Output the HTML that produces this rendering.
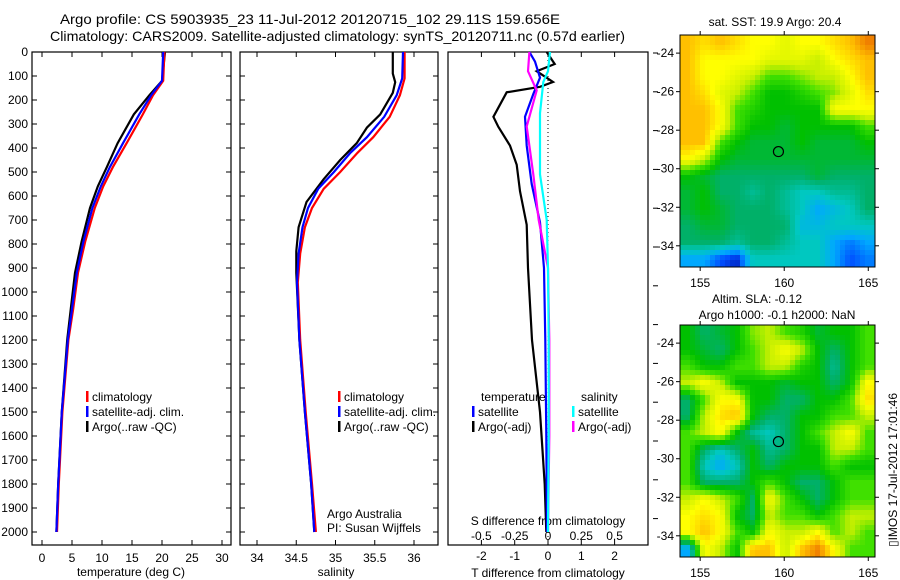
<!DOCTYPE html>
<html><head><meta charset="utf-8">
<style>
html,body{margin:0;padding:0;background:#fff;}
svg{display:block;font-family:"Liberation Sans",sans-serif;font-size:12px;}
</style></head>
<body>
<svg id="fig" width="900" height="580" viewBox="0 0 900 580">
<text x="60" y="24" font-size="14" textLength="500" lengthAdjust="spacingAndGlyphs">Argo profile: CS 5903935_23 11-Jul-2012 20120715_102 29.11S 159.656E</text>
<text x="50" y="41" font-size="14" textLength="575" lengthAdjust="spacingAndGlyphs">Climatology: CARS2009. Satellite-adjusted climatology: synTS_20120711.nc (0.57d earlier)</text>
<g id="g1"></g>
<g id="g2"></g>
<g id="g3"></g>
<g id="m1"></g>
<g id="m2"></g>
<text x="0" y="0" transform="translate(897,470) rotate(-90)" text-anchor="middle" font-size="12">▯IMOS 17-Jul-2012 17:01:46</text>
</svg>
<script>
// ---- temperature profile data ----
const tDepth = [0,120,180,260,380,480,560,650,790,920,1070,1200,1500,1800,2000];
const tClim = [20.4,20.2,18.5,16.8,14.1,11.8,10.2,8.8,7.2,6.0,5.2,4.4,3.4,2.8,2.5];
const tSat  = [20.2,20.0,18.2,16.2,13.5,11.3,9.8,8.4,6.9,5.8,5.0,4.3,3.3,2.7,2.4];
const tArgo = [20.5,20.0,17.9,15.3,12.6,10.8,9.3,8.0,6.6,5.5,4.8,4.2,3.3,2.7,2.4];
// ---- salinity profile data ----
const sDepth = [0,110,180,270,355,420,500,570,650,730,840,960,1200,1500,1800,2000];
const sClim = [35.88,35.88,35.82,35.69,35.48,35.28,35.06,34.85,34.70,34.61,34.55,34.52,34.55,34.62,34.70,34.75];
const sSat  = [35.86,35.85,35.78,35.62,35.40,35.19,34.98,34.78,34.65,34.58,34.53,34.51,34.54,34.61,34.69,34.73];
const sArgoDepth = [0,90,126,170,260,315,380,450,530,625,730,830,920,1200,1500,1800,2000];
const sArgo = [35.73,35.73,35.76,35.73,35.57,35.40,35.27,35.06,34.85,34.63,34.53,34.50,34.50,34.54,34.61,34.69,34.73];
// ---- difference data ----
const dTArgoDepth = [0,50,80,125,145,168,270,310,390,470,580,720,900,1200,1500,1800,2000];
const dTArgo = [-0.04,0.2,-0.34,0.15,-0.24,-1.24,-1.64,-1.5,-1.14,-0.94,-0.84,-0.64,-0.6,-0.48,-0.24,-0.1,-0.05];
const dTSatDepth = [0,40,107,175,270,390,550,710,900,1200,1600,2000];
const dTSat = [-0.56,-0.39,-0.24,-0.44,-0.69,-0.64,-0.49,-0.24,-0.12,-0.08,-0.05,-0.03];
const dSArgoDepth = [0,80,160,310,510,700,900,1200,1600,2000];
const dSArgo = [-0.14,-0.15,-0.085,-0.16,-0.11,-0.07,0.0,0.01,0.01,0.0];
const dSSatDepth = [0,80,125,255,510,700,900,1200,1600,2000];
const dSSat = [0.015,0.0,-0.035,-0.06,-0.06,-0.01,0.0,0.005,0.005,0.0];
// ---- tick labels ----
const depthTicks = [0,100,200,300,400,500,600,700,800,900,1000,1100,1200,1300,1400,1500,1600,1700,1800,1900,2000];
const tTicks = [0,5,10,15,20,25,30];
const sTicks = [34,34.5,35,35.5,36];
const sTickLabels = ["34","34.5","35","35.5","36"];
const dTTicks = [-2,-1,0,1,2];
const dSTicks = [-0.5,-0.25,0,0.25,0.5];
const dSTickLabels = ["-0.5","-0.25","0","0.25","0.5"];
const lonTicks = [155,160,165];
const latTicks = [-24,-26,-28,-30,-32,-34];
// ---- map grids (colour index 0..10, rows north->south, cols west->east) ----
const sstGrid = [
[9,8.5,9,8.5,8,8,7.5,8,8,8.5,9,10],
[9,8,8,8,8,7.5,7.5,7.5,7,8,8.5,9],
[9,8,8,7.5,7,6,6,6.5,7,7,8,9],
[9,8.5,7.5,7,6,5,5,5.5,6,6.5,7.5,8.5],
[9,9,8,6,5.5,5,5,5,5,8,8,8],
[9,9,8,6,5,5,4.5,5,5,5,5,6],
[9,9,6,5,4.5,4.5,4.5,5,4.5,4.5,4.5,5],
[8,7,5,4.5,4.5,4.5,4.5,4.5,4.5,4.5,4.5,4.5],
[5,4.5,4,4,4,4,4,4,4.5,4,4,4],
[4.5,5,4,4,3.5,4,3.5,3,3,3.5,3.5,4],
[4.5,5,4.5,4,4,4,3.5,3,2,2.5,3,4],
[4,4.5,4.5,4,4,4,4,2.5,2.5,3,3,3],
[4,4,4,3.5,4,4,3.5,3,3,2,1.5,2],
[2,2,1,0.5,3,3,3,3,3,2,1,1.5]];
const slaGrid = [
[5,4,4.5,5,6.5,7,6,5.5,4.5,5,5,6],
[5,4.5,4,5,6,7,8,7,5,4,5,6],
[6,5,5,6,6,7,7,5.5,5,3.5,5,6],
[7,8,7,5,5,5,4.5,5,5,4,5,8],
[4,6,8,8,5,5,4,4,5,5,6,8.5],
[4,7,8.5,9,5,4,4,5,5,6,6,7],
[6,7,8,5,3.5,3,4,5,6,7,8,6],
[6,4,3,4,5,3.5,4,5,5,7,7,6],
[6,3,2,3,5,4,5,5,5,6,5,5],
[6,4,4,4,5,6,5,4,4,5,6,6],
[7,8,7,6,4,8,6,5,4,5,6,6],
[8,8.5,8,5,4,7,6,6,5,6,7,7],
[8,9,8,6,5,8,7,7,8,6,7,6],
[2,8,7,5,9,9,7,9,10,8,6,6]];
const argoLon = 159.656, argoLat = -29.11;

const NS="http://www.w3.org/2000/svg";
function mk(parent,tag,attrs,text){const e=document.createElementNS(NS,tag);for(const k in attrs)e.setAttribute(k,attrs[k]);if(text!==undefined)e.textContent=text;parent.appendChild(e);return e;}
function lin(d0,d1,r0,r1){return v=>r0+(v-d0)*(r1-r0)/(d1-d0);}
const yD = lin(0,2000,52,532);
const PT=52,PB=545;

function frame(g,x0,x1,name){
  const r=mk(g,'rect',{x:x0,y:PT,width:x1-x0,height:PB-PT,fill:'none',stroke:'#000','stroke-width':1.2});
  
  
}
function line(g,xs,ds,fx,color,name){
  const pts=xs.map((v,i)=>fx(v).toFixed(1)+','+yD(ds[i]).toFixed(1)).join(' ');
  const p=mk(g,'polyline',{points:pts,fill:'none',stroke:color,'stroke-width':2.2,'stroke-linejoin':'miter'});
  
  
}
function depthTicksDraw(g,x0,x1,labels){
  depthTicks.forEach(d=>{const y=yD(d);
    mk(g,'line',{x1:x0,y1:y,x2:x0+5,y2:y,stroke:'#000'});
    mk(g,'line',{x1:x1,y1:y,x2:x1-5,y2:y,stroke:'#000'});
    if(labels){const t=mk(g,'text',{x:x0-4,y:y+4,'text-anchor':'end'},String(d));
      
      }
  });
}
function xTicks(g,vals,labs,fx,ly){
  vals.forEach((v,i)=>{const x=fx(v);
    mk(g,'line',{x1:x,y1:PT,x2:x,y2:PT+5,stroke:'#000'});
    mk(g,'line',{x1:x,y1:PB,x2:x,y2:PB-5,stroke:'#000'});
    const t=mk(g,'text',{x:x,y:ly,'text-anchor':'middle'},labs[i]);
    
    
  });
}
function legend(g,x,y,color,label){
  mk(g,'rect',{x:x,y:y-10,width:2.5,height:11,fill:color});
  const t=mk(g,'text',{x:x+6,y:y},label);
  
  
}

// Panel 1: temperature
(function(){
  const g=document.getElementById('g1');
  const fx=lin(0,30,42,222);
  frame(g,32,231,'temperature');
  depthTicksDraw(g,32,231,true);
  xTicks(g,tTicks,tTicks.map(String),fx,562);
  const xl=mk(g,'text',{x:131,y:576,'text-anchor':'middle'},'temperature (deg C)');
  
  
  line(g,tArgo,tDepth,fx,'#000','temp-argo-line');
  line(g,tClim,tDepth,fx,'#f00','temp-climatology-line');
  line(g,tSat,tDepth,fx,'#00f','temp-satellite-line');
  legend(g,86,401,'#f00','climatology');
  legend(g,86,416,'#00f','satellite-adj. clim.');
  legend(g,86,431,'#000','Argo(..raw -QC)');
})();

// Panel 2: salinity
(function(){
  const g=document.getElementById('g2');
  const fx=lin(34,36,257,414);
  frame(g,240,438,'salinity');
  depthTicksDraw(g,240,438,false);
  xTicks(g,sTicks,sTickLabels,fx,562);
  const xl=mk(g,'text',{x:336,y:576,'text-anchor':'middle'},'salinity');
  
  
  line(g,sArgo,sArgoDepth,fx,'#000','sal-argo-line');
  line(g,sClim,sDepth,fx,'#f00','sal-climatology-line');
  line(g,sSat,sDepth,fx,'#00f','sal-satellite-line');
  legend(g,338,401,'#f00','climatology');
  legend(g,338,416,'#00f','satellite-adj. clim.');
  legend(g,338,431,'#000','Argo(..raw -QC)');
  const a=mk(g,'text',{x:327,y:518},'Argo Australia');
  
  
  const b=mk(g,'text',{x:327,y:532},'PI: Susan Wijffels');
  
  
})();

// Panel 3: differences
(function(){
  const g=document.getElementById('g3');
  const fT=lin(0,1,548,581.3);
  const fS=lin(0,0.25,548,581.3);
  frame(g,448,648,'difference');
  for(let y=53;y<545;y+=38.8){mk(g,'line',{x1:653,y1:y,x2:658,y2:y,stroke:'#000'});}
  mk(g,'line',{x1:548,y1:PT,x2:548,y2:PB,stroke:'#000','stroke-dasharray':'1,3'});
  dTTicks.forEach(v=>{const x=fT(v);
    mk(g,'line',{x1:x,y1:PT,x2:x,y2:PT+5,stroke:'#000'});
    mk(g,'line',{x1:x,y1:PB,x2:x,y2:PB-5,stroke:'#000'});
    const t=mk(g,'text',{x:x,y:560,'text-anchor':'middle'},String(v));
    
    
  });
  dSTicks.forEach((v,i)=>{const x=fS(v);
    const t=mk(g,'text',{x:x,y:540,'text-anchor':'middle'},dSTickLabels[i]);
    
    
  });
  const st=mk(g,'text',{x:548,y:525,'text-anchor':'middle'},'S difference from climatology');
  
  
  const tt=mk(g,'text',{x:548,y:577,'text-anchor':'middle'},'T difference from climatology');
  
  
  line(g,dTArgo,dTArgoDepth,fT,'#000','t-diff-argo-line');
  line(g,dTSat,dTSatDepth,fT,'#00f','t-diff-satellite-line');
  line(g,dSArgo,dSArgoDepth,fS,'#f0f','s-diff-argo-line');
  line(g,dSSat,dSSatDepth,fS,'#0ff','s-diff-satellite-line');
  const h1=mk(g,'text',{x:481,y:401},'temperature');
  
  
  const h2=mk(g,'text',{x:581,y:401},'salinity');
  
  
  legend(g,472,416,'#00f','satellite');
  legend(g,472,431,'#000','Argo(-adj)');
  legend(g,572,416,'#0ff','satellite');
  legend(g,572,431,'#f0f','Argo(-adj)');
})();

// Maps
const cstops=['#000090','#0050ff','#00a8ff','#00c8c0','#00b068','#00c000','#40e000','#c8f000','#ffff00','#ffc000','#f08000'];
function hex(c){return [1,3,5].map(i=>parseInt(c.substr(i,2),16));}
function cmap(v){v=Math.max(0,Math.min(10,v));const i=Math.min(9,Math.floor(v)),f=v-i;
  const a=hex(cstops[i]),b=hex(cstops[i+1]);return 'rgb('+a.map((x,k)=>Math.round(x+(b[k]-x)*f)).join(',')+')';}
function sample(grid,fr,fc){
  const R=grid.length,C=grid[0].length;
  fr=Math.max(0,Math.min(R-1,fr));fc=Math.max(0,Math.min(C-1,fc));
  const r0=Math.floor(fr),c0=Math.floor(fc),r1=Math.min(R-1,r0+1),c1=Math.min(C-1,c0+1);
  const a=fr-r0,b=fc-c0;
  return grid[r0][c0]*(1-a)*(1-b)+grid[r0][c1]*(1-a)*b+grid[r1][c0]*a*(1-b)+grid[r1][c1]*a*b;
}
function drawMap(g,grid,y0,name,titles){
  const x0=680,x1=875,y1=y0+232;
  const fx=lin(153.8,165.4,x0,x1), fy=lin(-23.06,-35.1,y0,y1);
  const rows=grid.length, cols=grid[0].length;
  const step=5;
  for(let py=y0;py<y1;py+=step){
    for(let px=x0;px<x1;px+=step){
      const fc=(px+step/2-x0)/(x1-x0)*cols-0.5;
      const fr=(py+step/2-y0)/(y1-y0)*rows-0.5;
      const cell=mk(g,'rect',{x:px,y:py,width:Math.min(step,x1-px)+0.4,height:Math.min(step,y1-py)+0.4,fill:cmap(sample(grid,fr,fc))});
      
      
    }
  }
  const fr=mk(g,'rect',{x:x0,y:y0,width:x1-x0,height:y1-y0,fill:'none',stroke:'#000','stroke-width':1});
  
  
  lonTicks.forEach(v=>{const x=fx(v);
    mk(g,'line',{x1:x,y1:y0,x2:x,y2:y0-4,stroke:'#000'});
    mk(g,'line',{x1:x,y1:y1,x2:x,y2:y1+4,stroke:'#000'});
    const t=mk(g,'text',{x:x,y:y1+20,'text-anchor':'middle'},String(v));
    
    
  });
  latTicks.forEach(v=>{const y=fy(v);
    mk(g,'line',{x1:x0,y1:y,x2:x0-4,y2:y,stroke:'#000'});
    mk(g,'line',{x1:x1,y1:y,x2:x1+4,y2:y,stroke:'#000'});
    const t=mk(g,'text',{x:x0-6,y:y+4,'text-anchor':'end'},String(v));
    
    
  });
  const c=mk(g,'circle',{cx:fx(argoLon),cy:fy(argoLat),r:5,fill:'none',stroke:'#000','stroke-width':1.2});
  
  
  titles.forEach((tt,i)=>{const t=mk(g,'text',{x:tt[0],y:tt[1],'text-anchor':'middle'},tt[2]);
    
    });
}
drawMap(document.getElementById('m1'),sstGrid,35,'sst-map',[[775,26,'sat. SST: 19.9 Argo: 20.4']]);
drawMap(document.getElementById('m2'),slaGrid,325,'sla-map',[[757,303,'Altim. SLA: -0.12'],[777,319,'Argo h1000: -0.1 h2000: NaN']]);
</script>
</body></html>
